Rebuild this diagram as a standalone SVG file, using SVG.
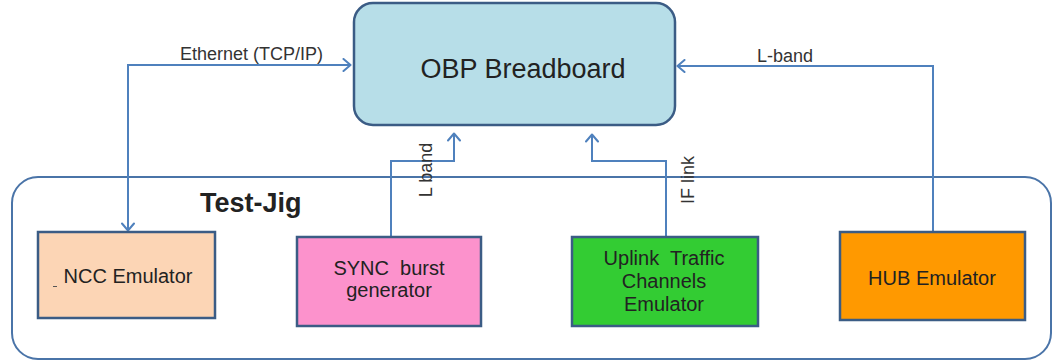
<svg xmlns="http://www.w3.org/2000/svg" width="1052" height="363" viewBox="0 0 1052 363">
  <style>
    .box { stroke: #3b5c85; stroke-width: 2.5; }
    .wire { fill: none; stroke: #4f81bd; stroke-width: 2; }
    .lbl { font-family: "Liberation Sans", Arial, sans-serif; fill: #222; }
    .node { font-size: 20px; text-anchor: middle; }
    .conn { font-size: 18px; fill: #333; }
  </style>
  <defs>
    <marker id="arrow" viewBox="0 0 12 14" refX="10.5" refY="7" markerWidth="12" markerHeight="14" markerUnits="userSpaceOnUse" orient="auto-start-reverse">
      <path d="M3,1 L10,7 L3,13" fill="none" stroke="#4f81bd" stroke-width="2" stroke-linecap="round" stroke-linejoin="round"/>
    </marker>
  </defs>

  <rect width="1052" height="363" fill="#ffffff"/>

  <!-- Test-Jig enclosure -->
  <g id="test-jig">
    <rect x="12" y="177" width="1039" height="182" rx="26" ry="26" fill="none" stroke="#4a74a8" stroke-width="2"/>
    <text class="lbl" x="200" y="212" font-size="27" font-weight="bold" fill="#111">Test-Jig</text>
  </g>

  <!-- Links between the breadboard and the emulators -->
  <g id="connectors">
    <path class="wire" d="M128,231 V65 H351" marker-start="url(#arrow)" marker-end="url(#arrow)"/>
    <path class="wire" d="M933,232 V66 H677" marker-end="url(#arrow)"/>
    <path class="wire" d="M391,237 V161 H454 V133" marker-end="url(#arrow)"/>
    <path class="wire" d="M666,237 V161 H592 V134" marker-end="url(#arrow)"/>
    <text class="lbl conn" x="180" y="60">Ethernet (TCP/IP)</text>
    <text class="lbl conn" x="757" y="62">L-band</text>
    <text class="lbl conn" text-anchor="middle" transform="translate(432,170) rotate(-90)">L band</text>
    <text class="lbl conn" text-anchor="middle" transform="translate(694,180) rotate(-90)">IF link</text>
  </g>

  <g id="obp-breadboard">
    <rect class="box" x="354" y="3" width="321" height="122" rx="19" ry="19" fill="#b7dee8"/>
    <text class="lbl" x="523" y="78" font-size="27" text-anchor="middle">OBP Breadboard</text>
  </g>

  <g id="ncc-emulator">
    <rect class="box" x="38" y="232" width="177" height="86" fill="#fcd5b5"/>
    <line x1="53" y1="286.5" x2="57" y2="286.5" stroke="#555" stroke-width="1"/>
    <text class="lbl node" x="128" y="283">NCC Emulator</text>
  </g>

  <g id="sync-burst-generator">
    <rect class="box" x="297" y="237" width="184" height="89" fill="#fc92cc"/>
    <text class="lbl node" x="389" y="275" xml:space="preserve">SYNC  burst</text>
    <text class="lbl node" x="389" y="297">generator</text>
  </g>

  <g id="uplink-traffic-emulator">
    <rect class="box" x="572" y="237" width="186" height="89" fill="#33cc33"/>
    <text class="lbl node" x="664" y="265" xml:space="preserve">Uplink  Traffic</text>
    <text class="lbl node" x="664" y="288">Channels</text>
    <text class="lbl node" x="664" y="311">Emulator</text>
  </g>

  <g id="hub-emulator">
    <rect class="box" x="840" y="232" width="185" height="88" fill="#ff9900"/>
    <text class="lbl node" x="932" y="285">HUB Emulator</text>
  </g>
</svg>
